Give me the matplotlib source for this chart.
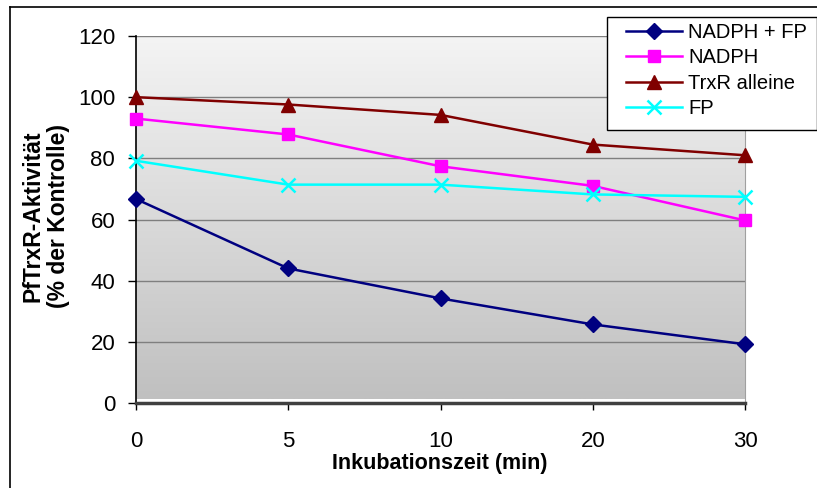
import numpy as np
import matplotlib
matplotlib.use("Agg")
import matplotlib.pyplot as plt
from matplotlib.lines import Line2D
from matplotlib.patches import Rectangle

plt.rcParams['font.family'] = ['Liberation Sans', 'DejaVu Sans']

zeiten = ["0", "5", "10", "20", "30"]
nadph_fp = [66.7, 44.0, 34.2, 25.7, 19.2]
nadph = [93.0, 87.8, 77.4, 71.0, 59.7]
trxr = [100.0, 97.6, 94.2, 84.5, 81.0]
fp = [79.2, 71.4, 71.4, 68.2, 67.4]
yticks = [0, 20, 40, 60, 80, 100, 120]

W, H = 817, 488
fig = plt.figure(figsize=(W / 100, H / 100), dpi=100)
ax = fig.add_axes([136 / W, 1 - 403 / H, (745 - 136) / W, (403 - 36) / H])

x = np.arange(len(zeiten))
ax.set_xlim(0, len(zeiten) - 1)
ax.set_ylim(0, 120)

# gradient background like the old Excel plot area
grad = np.linspace(0, 1, 256).reshape(-1, 1)
ax.set_facecolor("white")
ax.imshow(grad, cmap=matplotlib.colors.LinearSegmentedColormap.from_list(
    "g", ["#f4f4f4", "#c0c0c0"]), aspect="auto",
    extent=(0, len(zeiten) - 1, 1.3, 120), origin="upper", zorder=0)

for v in yticks[1:]:
    ax.axhline(v, color="#7f7f7f", lw=1.0, zorder=1)

ax.plot(x, nadph_fp, color="#000080", lw=1.8, marker="D", ms=8, label="NADPH + FP", zorder=3, clip_on=False)
ax.plot(x, nadph, color="#ff00ff", lw=1.8, marker="s", ms=8, label="NADPH", zorder=3, clip_on=False)
ax.plot(x, trxr, color="#800000", lw=1.8, marker="^", ms=10, label="TrxR alleine", zorder=3, clip_on=False)
ax.plot(x, fp, color="#00ffff", lw=1.8, marker="x", ms=10, mew=1.8, label="FP", zorder=3, clip_on=False)

ax.set_xticks(x)
ax.set_xticklabels(zeiten)
ax.set_yticks(yticks)
ax.tick_params(axis="x", direction="out", length=5, width=1, pad=15, labelsize=16)
ax.tick_params(axis="y", direction="out", length=6, width=1, pad=9, labelsize=16)

ax.spines["left"].set_color("black")
ax.spines["left"].set_linewidth(1.2)
ax.spines["bottom"].set_color("#404040")
ax.spines["bottom"].set_linewidth(2.5)
ax.spines["right"].set_color("#a0a0a0")
ax.spines["top"].set_visible(False)

fig.text(440 / W, 1 - 464 / H, "Inkubationszeit (min)", ha="center", va="center",
         fontsize=15.5, fontweight="bold")
fig.text(46 / W, 1 - 216 / H, "PfTrxR-Aktivität\n(% der Kontrolle)", rotation=90,
         ha="center", va="center", fontsize=16.5, fontweight="bold", linespacing=1.15)

# legend box drawn by hand so it sits where the original has it
fig.add_artist(Rectangle((607 / W, 1 - 130 / H), (817 - 607) / W, (130 - 17) / H,
                         transform=fig.transFigure, facecolor="white",
                         edgecolor="black", lw=1.0, zorder=5))
leg = fig.legend(loc="upper left", bbox_to_anchor=(626 / W, 1 - 23 / H), fontsize=14.5,
                 frameon=False, borderpad=0, labelspacing=0.32, handlelength=2.8,
                 handletextpad=0.3, borderaxespad=0)
leg.set_zorder(6)

# outer chart border (right and bottom are cut off in the original)
fig.add_artist(Line2D([10 / W, 10 / W], [-0.1, 1 - 7 / H], color="black", lw=1.2))
fig.add_artist(Line2D([10 / W, 1.1], [1 - 7 / H, 1 - 7 / H], color="black", lw=1.2))

fig.savefig("out.png", dpi=100)
